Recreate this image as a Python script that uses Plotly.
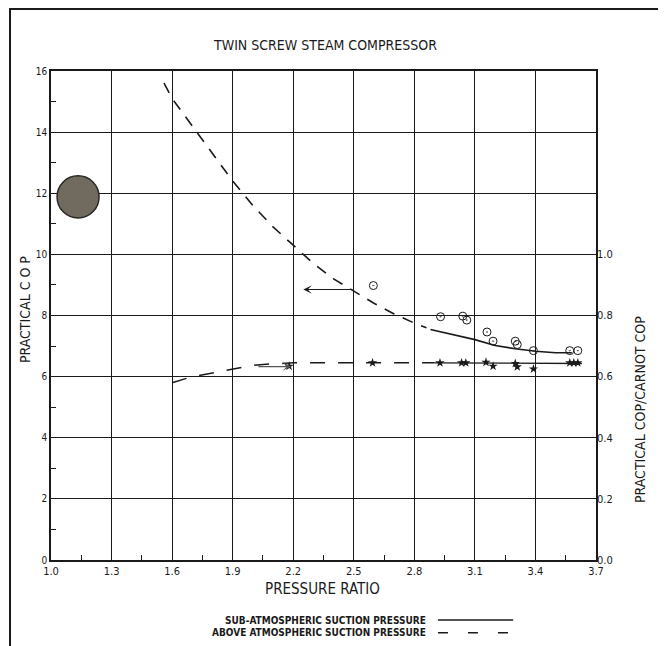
import plotly.graph_objects as go

# ---- data ----
cop_above_x = [1.56, 1.6, 1.7, 1.8, 1.9, 2.0, 2.1, 2.2, 2.3, 2.4, 2.5, 2.6, 2.7, 2.8, 2.86]
cop_above_y = [15.6, 15.1, 14.2, 13.3, 12.4, 11.6, 10.9, 10.3, 9.7, 9.2, 8.8, 8.4, 8.05, 7.75, 7.6]

cop_sub_x = [2.88, 3.0, 3.1, 3.2, 3.3, 3.4, 3.5, 3.58]
cop_sub_y = [7.54, 7.35, 7.21, 7.02, 6.91, 6.83, 6.78, 6.78]

ratio_above_x = [1.6, 1.7, 1.8, 1.9, 2.0, 2.1, 2.2, 2.5, 2.8, 2.9]
ratio_above_y = [0.58, 0.60, 0.612, 0.625, 0.637, 0.642, 0.645, 0.645, 0.645, 0.645]

ratio_sub_x = [2.9, 3.2, 3.63]
ratio_sub_y = [0.645, 0.645, 0.643]

cop_pts_x = [2.597, 2.93, 3.04, 3.06, 3.16, 3.19, 3.30, 3.31, 3.39, 3.57, 3.61]
cop_pts_y = [8.98, 7.96, 7.98, 7.85, 7.46, 7.16, 7.16, 7.05, 6.85, 6.85, 6.85]

ratio_pts_x = [2.18, 2.593, 2.927, 3.034, 3.055, 3.155, 3.19, 3.30, 3.31, 3.39, 3.57, 3.59, 3.61]
ratio_pts_y = [0.634, 0.645, 0.645, 0.645, 0.645, 0.647, 0.634, 0.643, 0.632, 0.625, 0.645, 0.645, 0.645]

x_ticks = [1.0, 1.3, 1.6, 1.9, 2.2, 2.5, 2.8, 3.1, 3.4, 3.7]
x_tick_text = ["1.0", "1.3", "1.6", "1.9", "2.2", "2.5", "2.8", "3.1", "3.4", "3.7"]
y_ticks = [0, 2, 4, 6, 8, 10, 12, 14, 16]
y2_ticks = [0.0, 0.2, 0.4, 0.6, 0.8, 1.0]
y2_tick_text = ["0.0", "0.2", "0.4", "0.6", "0.8", "1.0"]

FONT = "DejaVu Sans Condensed, Liberation Sans Narrow, sans-serif"
INK = "#1a1a1a"

fig = go.Figure()

fig.add_trace(go.Scatter(x=cop_above_x, y=cop_above_y, mode="lines",
                         line=dict(color=INK, width=1.6, dash="11px,9px"), showlegend=False))
fig.add_trace(go.Scatter(x=cop_sub_x, y=cop_sub_y, mode="lines",
                         line=dict(color=INK, width=1.6), showlegend=False))
fig.add_trace(go.Scatter(x=cop_pts_x, y=cop_pts_y, mode="markers",
                         marker=dict(symbol="circle-open-dot", size=8, color=INK, line=dict(width=1)),
                         showlegend=False))
fig.add_trace(go.Scatter(x=ratio_above_x, y=ratio_above_y, mode="lines", yaxis="y2",
                         line=dict(color=INK, width=1.5, dash="15px,13px"), showlegend=False))
fig.add_trace(go.Scatter(x=ratio_sub_x, y=ratio_sub_y, mode="lines", yaxis="y2",
                         line=dict(color=INK, width=1.3), showlegend=False))
fig.add_trace(go.Scatter(x=ratio_pts_x, y=ratio_pts_y, mode="markers", yaxis="y2",
                         marker=dict(symbol="star", size=7, color=INK),
                         showlegend=False))

shapes = []
# outer frame
shapes.append(dict(type="rect", xref="paper", yref="paper", x0=-0.0752, x1=1.121, y0=-0.2, y1=1.127,
                   line=dict(color=INK, width=2), fillcolor="rgba(0,0,0,0)", layer="below"))
# punch-hole
shapes.append(dict(type="circle", xref="x", yref="y", x0=1.030, x1=1.238, y0=11.19, y1=12.57,
                   line=dict(color="#2b2824", width=1.5), fillcolor="#716a5e", layer="above"))
# legend line samples
shapes.append(dict(type="line", xref="paper", yref="paper", x0=0.71, x1=0.848, y0=-0.1227, y1=-0.1227,
                   line=dict(color=INK, width=1.5)))
shapes.append(dict(type="line", xref="paper", yref="paper", x0=0.71, x1=0.848, y0=-0.149, y1=-0.149,
                   line=dict(color=INK, width=1.5, dash="10px,20px")))

def lbl(text, x, y, size, angle=0, xanchor="center", bold=False):
    return dict(text=(f"<b>{text}</b>" if bold else text), xref="paper", yref="paper", x=x, y=y,
                xanchor=xanchor, yanchor="middle", textangle=angle, showarrow=False,
                font=dict(family=FONT, size=size, color=INK))

annotations = [
    lbl("TWIN SCREW STEAM COMPRESSOR", 0.503, 1.053, 14),
    lbl("PRESSURE RATIO", 0.499, -0.059, 15),
    lbl("PRACTICAL C O P", -0.0477, 0.511, 14, angle=-90),
    lbl("PRACTICAL COP/CARNOT COP", 1.081, 0.307, 14, angle=-90),
    lbl("SUB-ATMOSPHERIC SUCTION PRESSURE", 0.692, -0.1227, 10, xanchor="right", bold=True),
    lbl("ABOVE ATMOSPHERIC SUCTION PRESSURE", 0.692, -0.149, 10, xanchor="right", bold=True),
    # arrow pointing to left axis
    dict(x=2.25, y=8.85, ax=2.5, ay=8.85, xref="x", yref="y", axref="x", ayref="y", text="",
         showarrow=True, arrowhead=3, arrowsize=1.2, arrowwidth=1.2, arrowcolor=INK),
    # arrow pointing to right axis
    dict(x=2.19, y=0.633, ax=2.02, ay=0.633, xref="x", yref="y2", axref="x", ayref="y2", text="",
         showarrow=True, arrowhead=3, arrowsize=1.2, arrowwidth=1.2, arrowcolor="#555555"),
]

fig.update_layout(
    width=658, height=638,
    margin=dict(l=43, r=70, t=63, b=86),
    paper_bgcolor="white", plot_bgcolor="white",
    shapes=shapes, annotations=annotations,
    xaxis=dict(range=[1.0, 3.7], tickvals=x_ticks, ticktext=x_tick_text,
               showgrid=True, gridcolor=INK, gridwidth=1.2,
               showline=True, linecolor=INK, linewidth=1.5, mirror=True,
               ticks="", tickfont=dict(family=FONT, size=11, color=INK), zeroline=False,
               minor=dict(tickvals=[1.15, 1.45, 1.75, 2.05, 2.35, 2.65, 2.95, 3.25, 3.55],
                          ticks="inside", ticklen=5, tickcolor=INK, showgrid=False)),
    yaxis=dict(range=[0, 16], tickvals=y_ticks,
               showgrid=True, gridcolor=INK, gridwidth=1.2,
               showline=True, linecolor=INK, linewidth=1.5, mirror=True,
               ticks="", tickfont=dict(family=FONT, size=10, color=INK), zeroline=False,
               minor=dict(tickvals=[1, 3, 5, 7, 9, 11, 13, 15],
                          ticks="inside", ticklen=5, tickcolor=INK, showgrid=False)),
    yaxis2=dict(range=[0, 1.6], overlaying="y", side="right", tickvals=y2_ticks, ticktext=y2_tick_text,
                showgrid=False, showline=False, ticks="", zeroline=False,
                tickfont=dict(family=FONT, size=11, color=INK)),
)

fig.write_html("out.html")
